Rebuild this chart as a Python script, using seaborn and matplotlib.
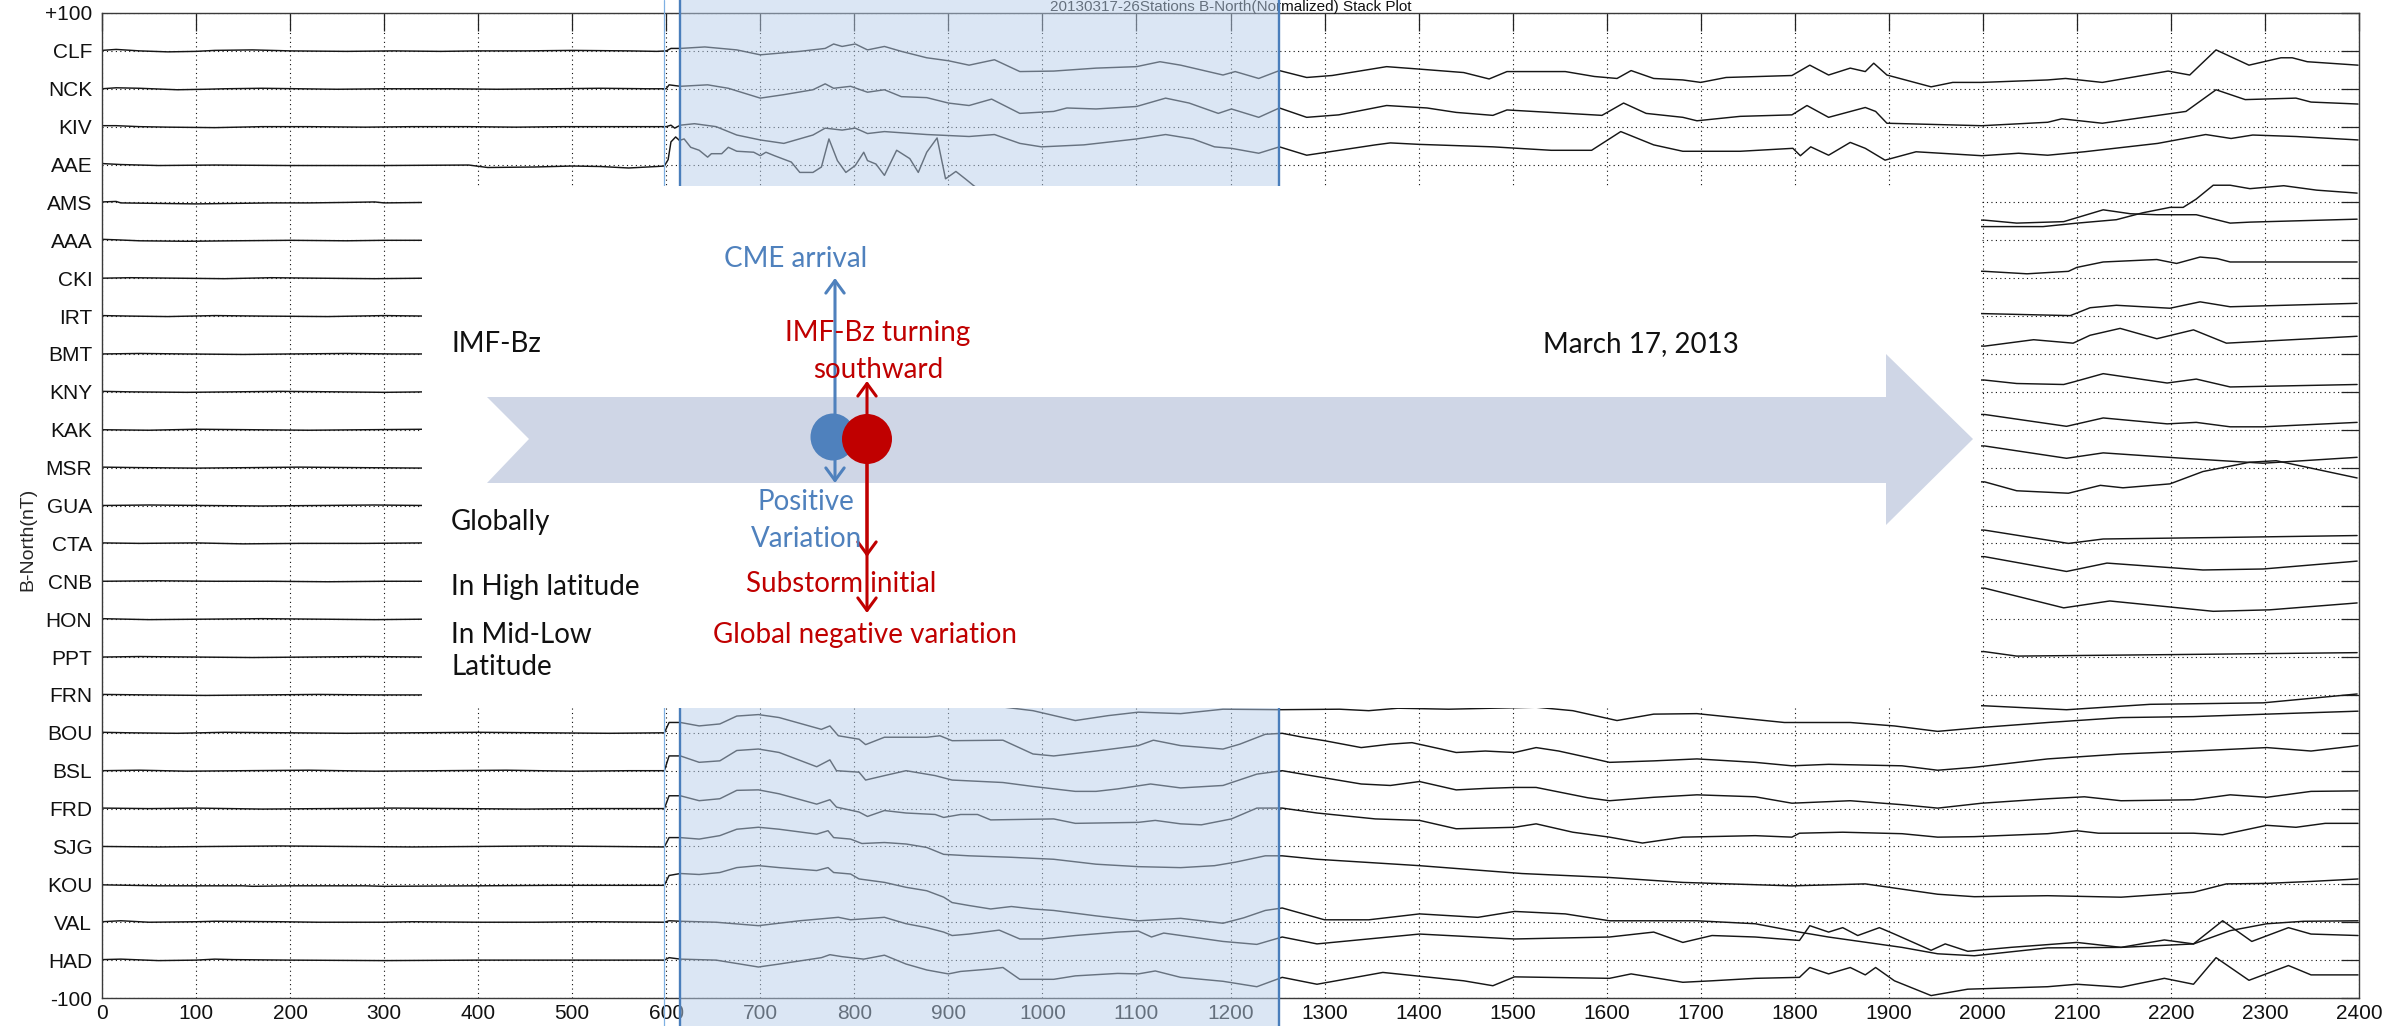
import numpy as np
import pandas as pd
import matplotlib
matplotlib.use("Agg")
import matplotlib.pyplot as plt
import seaborn as sns
from matplotlib import transforms, font_manager
from matplotlib.lines import Line2D
from matplotlib.patches import Rectangle, Polygon, Ellipse, FancyArrowPatch

# ---------------- data ----------------
STATIONS = ["CLF", "NCK", "KIV", "AAE", "AMS", "AAA", "CKI", "IRT", "BMT", "KNY",
            "KAK", "MSR", "GUA", "CTA", "CNB", "HON", "PPT", "FRN", "BOU", "BSL",
            "FRD", "SJG", "KOU", "VAL", "HAD"]
Y_TICK_LABELS = ["+100"] + STATIONS + ["-100"]
X_TICKS = list(range(0, 2401, 100))
TITLE = "20130317-26Stations B-North(Normalized) Stack Plot"
YLABEL = "B-North(nT)"

# (time index, normalized deviation from station baseline)
CLF = [(0, 0.1), (15, 0.3), (40, 0.0), (70, -0.2), (100, -0.1), (120, 0.1), (160, 0.2), (200, 0.0),
       (260, -0.1), (310, 0.0), (360, -0.1), (400, 0.0), (450, 0.0), (500, 0.1), (560, 0.0), (590, -0.1),
       (600, 0.0), (605, 0.5), (615, 0.5), (641, 0.8), (675, 0.2), (700, -0.8), (742, -0.1), (769, 0.5),
       (778, 1.4), (787, 0.9), (801, 1.4), (814, 0.2), (832, 0.9), (850, -0.1), (877, -1.4), (900, -2.0),
       (922, -2.9), (949, -1.8), (976, -4.2), (1012, -4.1), (1057, -3.5), (1100, -3.2), (1125, -2.2),
       (1147, -2.9), (1192, -4.9), (1205, -4.2), (1230, -5.6), (1252, -4.0), (1281, -5.4), (1308, -5.0),
       (1366, -3.2), (1401, -3.7), (1448, -4.4), (1475, -5.7), (1494, -4.2), (1556, -4.2), (1587, -5.2),
       (1611, -5.6), (1626, -4.0), (1650, -5.6), (1681, -5.9), (1700, -6.4), (1727, -5.4), (1797, -5.0),
       (1816, -2.9), (1836, -4.9), (1859, -3.5), (1875, -4.2), (1884, -2.5), (1898, -4.9), (1945, -7.3),
       (1968, -6.4), (1999, -6.4), (2069, -5.9), (2088, -5.6), (2127, -6.4), (2197, -4.1), (2220, -4.9),
       (2248, 0.2), (2283, -2.9), (2317, -1.4), (2329, -1.4), (2345, -2.2), (2399, -2.9)]
NCK = [(0, 0.0), (15, 0.2), (40, 0.1), (80, -0.2), (110, -0.1), (130, 0.0), (170, 0.1), (210, 0.0),
       (250, -0.1), (300, 0.0), (370, 0.0), (420, -0.1), (480, 0.0), (530, 0.1), (580, 0.0), (600, 0.0),
       (603, 0.8), (615, 0.5), (644, 0.8), (666, 0.1), (700, -1.9), (725, -1.2), (756, -0.2), (769, 1.0),
       (778, 0.1), (796, 0.5), (814, -0.7), (832, -0.2), (850, -1.6), (877, -1.8), (900, -2.9), (922, -3.4),
       (946, -2.1), (976, -5.0), (1012, -4.6), (1026, -3.9), (1057, -4.1), (1100, -3.6), (1131, -1.9),
       (1156, -2.9), (1187, -5.0), (1201, -4.1), (1230, -5.8), (1252, -3.9), (1281, -5.8), (1315, -5.3),
       (1366, -3.4), (1409, -3.9), (1440, -4.8), (1479, -5.4), (1494, -4.3), (1595, -5.4), (1618, -2.9),
       (1642, -5.0), (1681, -5.8), (1696, -6.5), (1742, -5.6), (1797, -5.3), (1813, -3.4), (1836, -5.8),
       (1875, -3.8), (1886, -4.6), (1898, -7.0), (1999, -7.5), (2069, -6.8), (2084, -6.1), (2127, -7.0),
       (2216, -4.6), (2248, -0.2), (2279, -2.2), (2333, -1.9), (2349, -2.7), (2399, -3.1)]
KIV = [(0, 0.2), (15, 0.2), (40, 0.0), (70, -0.1), (120, -0.2), (170, 0.0), (220, 0.0), (280, -0.1),
       (330, 0.0), (390, 0.0), (440, -0.1), (490, 0.0), (550, 0.0), (600, 0.0), (605, 0.3), (609, -0.3),
       (615, 0.3), (630, 0.6), (653, 0.0), (675, -1.7), (700, -2.7), (725, -3.4), (756, -1.7), (769, -0.3),
       (787, -0.7), (801, -0.3), (814, -1.4), (832, -1.0), (877, -1.6), (900, -1.8), (922, -2.0), (949, -1.6),
       (976, -3.4), (999, -4.1), (1044, -3.7), (1100, -2.5), (1131, -1.6), (1160, -2.5), (1183, -4.1),
       (1201, -4.4), (1230, -5.4), (1252, -4.1), (1281, -5.8), (1354, -3.7), (1370, -3.3), (1401, -3.6),
       (1479, -4.1), (1541, -4.8), (1584, -4.8), (1615, -1.0), (1650, -3.7), (1681, -5.0), (1742, -5.0),
       (1798, -4.4), (1806, -5.9), (1817, -4.1), (1836, -5.8), (1859, -3.2), (1875, -4.4), (1896, -6.8),
       (1929, -5.1), (1999, -5.9), (2038, -5.4), (2069, -5.8), (2108, -5.1), (2186, -3.4), (2237, -1.6),
       (2264, -2.4), (2287, -1.7), (2333, -2.0), (2399, -2.7)]
AAE = [(0, 0.2), (20, 0.0), (60, -0.2), (120, -0.1), (200, -0.2), (300, -0.2), (390, -0.1), (410, -0.6),
       (460, -0.5), (500, -0.3), (530, -0.4), (560, -0.7), (590, -0.4), (598, -0.3), (602, 1.0), (605, 4.6),
       (610, 5.6), (614, 4.9), (619, 5.2), (626, 3.5), (635, 2.9), (644, 1.5), (648, 2.2), (659, 2.2),
       (666, 3.5), (675, 2.7), (693, 2.5), (700, 1.8), (706, 2.5), (715, 1.8), (733, 0.5), (742, -1.6),
       (756, -1.6), (765, -0.5), (773, 5.2), (782, 0.8), (791, -1.6), (801, -0.2), (810, 2.5), (814, 0.8),
       (823, 0.1), (832, -2.2), (845, 2.9), (859, 1.2), (868, -1.6), (877, 2.5), (888, 5.4), (897, -2.9),
       (908, -1.4), (918, -2.9), (927, -4.3), (945, -6.5), (990, -8.0), (1100, -9.0), (1300, -11.0),
       (1600, -13.0), (1900, -12.5), (2002, -12.6), (2064, -12.6), (2100, -11.9), (2142, -11.2),
       (2170, -9.8), (2199, -8.7), (2213, -8.7), (2227, -7.0), (2245, -4.2), (2263, -4.2), (2284, -4.9),
       (2320, -4.3), (2355, -5.2), (2398, -5.8)]
AMS = [(0, 0.1), (15, 0.2), (20, -0.1), (60, -0.2), (100, -0.3), (140, -0.2), (180, -0.1), (220, -0.1),
       (260, 0.0), (290, 0.1), (300, -0.1), (345, 0.0), (2002, -3.6), (2036, -4.2), (2086, -3.9),
       (2128, -1.5), (2157, -2.3), (2185, -2.5), (2227, -2.5), (2263, -4.2), (2284, -4.0), (2398, -3.4)]
AAA = [(0, 0.2), (15, 0.1), (40, -0.1), (90, -0.2), (140, -0.1), (200, 0.0), (260, -0.1), (300, 0.0),
       (345, 0.0), (2002, -6.3), (2047, -6.8), (2091, -6.3), (2100, -5.5), (2128, -4.4), (2185, -3.9),
       (2206, -4.7), (2231, -3.4), (2249, -3.7), (2263, -4.4), (2398, -4.4)]
CKI = [(0, 0.0), (30, 0.1), (80, 0.0), (130, -0.1), (180, 0.1), (230, 0.0), (290, -0.1), (345, 0.0),
       (2002, -7.2), (2093, -7.6), (2114, -6.0), (2142, -5.5), (2199, -6.1), (2231, -4.8), (2263, -5.8),
       (2398, -5.1)]
IRT = [(0, 0.1), (30, 0.0), (70, -0.1), (120, 0.1), (170, 0.0), (240, -0.1), (300, 0.1), (345, 0.0),
       (2002, -6.1), (2054, -4.8), (2096, -5.5), (2114, -3.9), (2146, -2.5), (2185, -4.6), (2224, -2.8),
       (2259, -5.5), (2398, -4.1)]
BMT = [(0, 0.0), (40, 0.1), (90, 0.0), (150, -0.1), (200, 0.0), (260, 0.1), (310, 0.0), (345, 0.0),
       (2002, -5.3), (2036, -6.0), (2086, -6.2), (2096, -5.7), (2128, -4.0), (2196, -5.9), (2227, -5.1),
       (2263, -6.7), (2398, -6.2)]
KNY = [(0, 0.1), (30, 0.0), (90, -0.1), (140, 0.0), (190, 0.1), (250, 0.0), (300, -0.1), (345, 0.0),
       (2002, -4.6), (2089, -7.0), (2128, -5.3), (2196, -6.5), (2227, -6.2), (2263, -7.1), (2298, -7.1),
       (2398, -6.2)]
KAK = [(0, 0.0), (50, -0.1), (100, 0.1), (160, 0.0), (220, -0.1), (280, 0.0), (345, 0.1),
       (2002, -3.3), (2089, -5.8), (2128, -4.7), (2213, -5.8), (2298, -6.8), (2398, -5.6)]
MSR = [(0, 0.1), (40, 0.0), (100, -0.1), (160, 0.0), (210, 0.1), (270, 0.0), (345, -0.1),
       (2002, -2.9), (2036, -4.7), (2091, -5.2), (2125, -3.6), (2149, -4.1), (2199, -3.3), (2234, -0.8),
       (2284, 1.1), (2312, 1.4), (2398, -2.1)]
GUA = [(0, 0.0), (50, 0.1), (110, 0.0), (170, -0.1), (230, 0.0), (290, 0.1), (345, 0.0),
       (2002, -5.0), (2091, -7.7), (2128, -6.8), (2250, -6.5), (2398, -6.1)]
CTA = [(0, 0.1), (40, 0.0), (100, 0.1), (150, -0.1), (210, 0.0), (280, 0.0), (345, 0.1),
       (2002, -2.7), (2089, -5.7), (2132, -4.0), (2234, -5.4), (2298, -5.2), (2398, -3.6)]
CNB = [(0, 0.0), (60, 0.1), (120, 0.0), (180, 0.0), (240, -0.1), (300, 0.0), (345, 0.0),
       (2002, -1.4), (2086, -5.4), (2135, -4.0), (2245, -6.1), (2305, -5.8), (2398, -4.4)]
HON = [(0, 0.1), (50, -0.1), (110, 0.0), (170, 0.1), (230, 0.0), (290, -0.1), (345, 0.0),
       (2002, -6.6), (2036, -7.5), (2200, -7.2), (2398, -6.8)]
PPT = [(0, 0.0), (40, 0.1), (100, 0.0), (160, -0.1), (220, 0.0), (280, 0.1), (345, 0.0),
       (2002, -9.9), (2089, -10.7), (2178, -9.6), (2298, -9.3), (2398, -7.5)]
FRN = [(0, 0.1), (50, 0.0), (110, -0.1), (170, 0.0), (230, 0.1), (290, 0.0), (345, 0.0), (600, 0.0),
       (610, 2.0), (700, 2.5), (800, 0.5), (900, -1.5), (960, -2.5), (990, -3.2), (1035, -5.2),
       (1070, -4.2), (1102, -3.5), (1147, -3.8), (1192, -2.9), (1252, -3.0), (1316, -2.9), (1347, -3.2),
       (1378, -2.7), (1432, -2.9), (1525, -2.5), (1564, -3.2), (1611, -5.2), (1650, -3.9), (1696, -3.8),
       (1789, -5.6), (1859, -5.6), (1906, -6.3), (1952, -7.4), (1999, -6.6), (2069, -5.6), (2147, -4.6),
       (2224, -4.4), (2302, -3.9), (2399, -3.3)]
BOU = [(0, 0.1), (30, 0.0), (80, -0.1), (130, 0.1), (200, 0.0), (260, -0.1), (330, 0.0), (400, 0.1),
       (470, 0.0), (540, -0.1), (598, 0.0), (603, 2.1), (615, 2.1), (635, 1.4), (657, 1.8), (675, 3.4),
       (698, 3.7), (720, 3.1), (765, 0.7), (774, 1.4), (783, -0.6), (805, -1.3), (812, -2.4), (832, -0.9),
       (877, -0.9), (891, -0.6), (904, -1.6), (958, -1.5), (990, -4.3), (1012, -4.7), (1057, -3.7),
       (1102, -2.6), (1118, -1.5), (1147, -2.6), (1192, -3.3), (1210, -2.3), (1237, -0.3), (1255, -0.1),
       (1277, -0.9), (1300, -1.6), (1339, -3.0), (1370, -2.3), (1393, -2.0), (1424, -3.3), (1440, -4.0),
       (1471, -3.7), (1502, -4.0), (1525, -3.0), (1549, -3.7), (1580, -5.0), (1603, -6.0), (1650, -5.7),
       (1696, -5.3), (1758, -6.0), (1797, -6.7), (1836, -6.4), (1914, -6.7), (1952, -7.6), (1991, -7.0),
       (2069, -5.3), (2147, -4.3), (2224, -3.7), (2302, -3.0), (2349, -3.7), (2399, -2.6)]
BSL = [(0, 0.0), (40, 0.1), (90, -0.1), (150, 0.0), (220, 0.1), (290, -0.1), (360, 0.0), (430, 0.1),
       (500, -0.1), (560, 0.0), (598, 0.0), (603, 3.0), (615, 3.0), (635, 1.7), (657, 2.0), (675, 4.1),
       (698, 4.4), (720, 3.7), (760, 0.8), (774, 2.2), (781, 0.0), (805, -0.3), (812, -1.9), (832, -1.0),
       (855, 0.0), (886, -1.0), (904, -1.9), (958, -2.4), (990, -3.2), (1035, -4.2), (1057, -4.2),
       (1080, -3.7), (1115, -2.7), (1147, -3.5), (1192, -3.0), (1228, -0.7), (1255, 0.0), (1292, -1.2),
       (1339, -2.7), (1370, -3.0), (1401, -2.2), (1440, -3.9), (1471, -3.6), (1502, -3.4), (1525, -3.4),
       (1580, -5.5), (1603, -6.1), (1650, -5.4), (1696, -4.9), (1758, -5.3), (1797, -6.6), (1859, -6.1),
       (1914, -6.9), (1952, -7.6), (1999, -6.6), (2069, -5.7), (2108, -5.3), (2147, -6.1), (2224, -5.9),
       (2263, -4.9), (2302, -5.4), (2349, -4.2), (2399, -4.1)]
FRD = [(0, 0.1), (50, 0.0), (100, 0.1), (170, -0.1), (240, 0.0), (310, 0.1), (380, 0.0), (450, -0.1),
       (520, 0.0), (598, 0.0), (603, 2.6), (615, 2.6), (635, 1.6), (657, 2.0), (675, 3.7), (698, 3.8),
       (720, 3.0), (760, 0.9), (774, 1.8), (781, 0.3), (805, -0.7), (814, -1.6), (832, -0.4), (855, -0.9),
       (886, -1.2), (895, -1.8), (913, -1.2), (931, -1.2), (945, -2.3), (1012, -2.1), (1035, -3.0),
       (1102, -2.8), (1120, -2.4), (1147, -3.1), (1169, -3.3), (1201, -2.1), (1228, 0.1), (1255, 0.1),
       (1292, -0.9), (1354, -2.1), (1401, -2.4), (1440, -4.1), (1502, -3.8), (1525, -3.1), (1564, -4.8),
       (1603, -5.8), (1638, -7.0), (1681, -5.8), (1758, -5.5), (1797, -5.8), (1805, -5.0), (1851, -4.8),
       (1914, -5.1), (1952, -5.8), (1991, -5.7), (2069, -5.1), (2100, -4.5), (2123, -5.0), (2224, -5.0),
       (2255, -5.3), (2302, -3.4), (2333, -3.8), (2364, -3.0), (2399, -3.0)]
SJG = [(0, 0.0), (60, -0.1), (120, 0.0), (190, 0.1), (260, 0.0), (330, -0.1), (400, 0.0), (470, 0.1),
       (540, 0.0), (598, -0.1), (603, 1.8), (615, 1.8), (635, 1.5), (657, 2.2), (675, 3.5), (698, 3.9),
       (720, 3.5), (760, 2.5), (772, 3.2), (778, 1.8), (796, 1.5), (808, 0.6), (832, 0.8), (855, 0.5),
       (877, -0.2), (895, -1.6), (922, -1.9), (967, -2.2), (1012, -2.6), (1057, -3.6), (1102, -4.1),
       (1147, -4.3), (1183, -3.9), (1205, -3.2), (1237, -1.9), (1255, -1.9), (1292, -2.6), (1401, -3.9),
       (1510, -5.5), (1603, -6.3), (1681, -7.3), (1797, -8.0), (1875, -7.6), (1952, -9.7), (1991, -10.2),
       (2069, -10.0), (2147, -10.3), (2224, -9.3), (2259, -7.6), (2302, -7.5), (2349, -7.1), (2399, -6.6)]
KOU = [(0, -0.1), (60, -0.3), (150, -0.3), (160, -0.4), (200, -0.3), (280, -0.3), (300, -0.4), (400, -0.3),
       (480, -0.2), (560, -0.2), (598, -0.2), (603, 1.8), (615, 2.2), (635, 2.0), (657, 2.4), (675, 3.4),
       (698, 3.8), (720, 3.4), (760, 2.8), (772, 3.4), (778, 2.4), (796, 2.1), (805, 1.1), (832, 0.4),
       (855, -0.6), (877, -1.3), (895, -2.6), (904, -3.7), (922, -4.3), (945, -5.0), (967, -4.5),
       (990, -5.0), (1012, -5.3), (1057, -6.4), (1102, -7.4), (1147, -6.9), (1192, -7.9), (1214, -6.8),
       (1237, -5.3), (1255, -4.8), (1300, -7.2), (1347, -7.2), (1401, -6.0), (1463, -6.7), (1502, -5.5),
       (1556, -6.0), (1603, -7.4), (1696, -7.4), (1758, -8.0), (1805, -9.7), (1836, -10.7), (1914, -12.8),
       (1952, -14.1), (1991, -14.5), (2069, -12.9), (2147, -12.8), (2224, -12.1), (2263, -9.4),
       (2302, -8.0), (2341, -7.5), (2399, -7.4)]
VAL = [(0, 0.1), (20, 0.3), (50, 0.0), (100, 0.1), (120, 0.2), (190, 0.1), (230, 0.0), (300, 0.0),
       (330, 0.1), (400, 0.0), (460, 0.0), (520, 0.1), (598, 0.0), (603, 0.3), (615, 0.2), (653, 0.0),
       (698, -0.7), (742, 0.3), (783, 1.0), (796, 0.5), (832, 1.0), (855, -0.3), (877, -1.1), (895, -2.0),
       (904, -2.7), (922, -2.4), (954, -1.6), (976, -3.4), (999, -3.4), (1035, -2.7), (1080, -2.0),
       (1102, -1.8), (1116, -3.0), (1129, -2.2), (1192, -3.9), (1228, -4.5), (1255, -3.0), (1292, -4.4),
       (1401, -2.4), (1502, -3.4), (1603, -3.0), (1650, -2.0), (1681, -4.1), (1712, -2.7), (1758, -3.0),
       (1805, -3.7), (1816, -0.7), (1836, -2.0), (1851, -1.1), (1867, -2.7), (1890, -1.1), (1906, -2.4),
       (1945, -5.7), (1960, -4.4), (1984, -5.9), (2030, -5.1), (2100, -4.1), (2147, -5.1), (2193, -3.6),
       (2224, -4.4), (2255, 0.3), (2286, -3.9), (2325, -1.1), (2349, -2.4), (2399, -2.7)]
HAD = [(0, 0.1), (20, 0.2), (60, -0.1), (100, 0.0), (120, 0.2), (140, 0.1), (200, 0.0), (300, -0.1),
       (400, 0.0), (500, 0.0), (598, 0.0), (603, 0.5), (615, 0.2), (653, 0.0), (698, -1.4), (720, -0.8),
       (765, 0.5), (774, 1.1), (787, 0.7), (810, 0.2), (832, 1.0), (855, -0.8), (877, -2.0), (900, -2.8),
       (913, -2.3), (945, -1.8), (958, -1.5), (976, -3.9), (1012, -3.9), (1035, -3.2), (1080, -2.7),
       (1102, -2.8), (1120, -2.2), (1147, -3.5), (1192, -4.3), (1228, -5.4), (1255, -3.5), (1292, -4.9),
       (1362, -2.5), (1448, -4.2), (1479, -5.2), (1502, -3.4), (1603, -3.7), (1626, -2.8), (1681, -4.5),
       (1712, -4.2), (1758, -3.7), (1805, -3.5), (1816, -1.5), (1836, -2.8), (1859, -1.5), (1875, -3.0),
       (1886, -1.5), (1906, -4.2), (1945, -7.2), (1984, -5.9), (2069, -5.4), (2100, -4.9), (2147, -5.5),
       (2193, -3.7), (2224, -4.9), (2248, 0.5), (2283, -4.1), (2325, -1.1), (2349, -3.0), (2399, -3.0)]

TRACES = [CLF, NCK, KIV, AAE, AMS, AAA, CKI, IRT, BMT, KNY, KAK, MSR, GUA, CTA, CNB, HON, PPT,
          FRN, BOU, BSL, FRD, SJG, KOU, VAL, HAD]

# event markers (time index)
SC_LINE = 598
SHADE_START = 615
SHADE_END = 1252

# annotation texts
LEFT_TEXTS = ["IMF-Bz", "Globally", "In High latitude", "In Mid-Low", "Latitude"]
BLUE_TEXTS = ["CME arrival", "Positive", "Variation"]
RED_TEXTS = ["IMF-Bz turning", "southward", "Substorm initial", "Global negative variation"]
DATE_TEXT = "March 17, 2013"

# ---------------- style ----------------
sns.set_theme(style="white")
names = {f.name for f in font_manager.fontManager.ttflist}
TICK_FONT = "Liberation Sans Narrow" if "Liberation Sans Narrow" in names else "Liberation Sans"
plt.rcParams["font.family"] = [TICK_FONT, "DejaVu Sans"]
ANN_FONT = ["Lato", "DejaVu Sans"]

W, H, DPI = 2389, 1026, 100
fig = plt.figure(figsize=(W / DPI, H / DPI), dpi=DPI, facecolor="white")
AX_L, AX_R, AX_T, AX_B = 102, 2359, 13, 998
ax = fig.add_axes([AX_L / W, 1 - AX_B / H, (AX_R - AX_L) / W, (AX_B - AX_T) / H])
ax.set_facecolor("white")

levels = np.linspace(100, -100, len(STATIONS) + 2)
rows = []
for k, (name, tr) in enumerate(zip(STATIONS, TRACES)):
    for x, v in tr:
        rows.append({"station": name, "x": x, "y": levels[k + 1] + v})
df = pd.DataFrame(rows)

sns.lineplot(data=df, x="x", y="y", units="station", estimator=None, color="#161616",
             lw=1.05, ax=ax, legend=False)

ax.set_xlim(0, 2400)
ax.set_ylim(-100, 100)
ax.set_xticks(X_TICKS)
ax.set_xticklabels([str(t) for t in X_TICKS])
ax.set_yticks(levels)
ax.set_yticklabels(Y_TICK_LABELS)
ax.set_xlabel("")
ax.set_ylabel(YLABEL, fontsize=14, family=["Liberation Sans", "DejaVu Sans"])
ax.yaxis.set_label_coords((36 - AX_L) / (AX_R - AX_L), 1 - (539 - AX_T) / (AX_B - AX_T))
ax.grid(True, color="#111111", ls=(0, (1, 3)), lw=0.8)
ax.set_axisbelow(True)
ax.tick_params(axis="both", direction="in", length=13, width=0.9, color="#222222",
               top=True, right=True, labelsize=15, labelcolor="#111111")
ax.tick_params(axis="y", pad=7)
ax.tick_params(axis="x", pad=4)
for s in ax.spines.values():
    s.set_color("#3a3a3a")
    s.set_linewidth(1.0)

# title squeezed into the thin strip above the frame
fig.text((AX_L + AX_R) / 2 / W, 1 - 11.5 / H, TITLE, ha="center", va="baseline", fontsize=11,
         family=["Liberation Sans", "DejaVu Sans"], color="#111111", zorder=1)

# ---------------- overlays ----------------
blend = transforms.blended_transform_factory(ax.transData, fig.transFigure)
fig.add_artist(Rectangle((SHADE_START, 0), SHADE_END - SHADE_START, 1, transform=blend,
                         facecolor="#b9cfea", alpha=0.5, edgecolor="none", zorder=2))
fig.add_artist(Line2D([SC_LINE, SC_LINE], [0, 1], transform=blend, color="#7fb0e3", lw=0.9, zorder=2.2))
for xv in (SHADE_START, SHADE_END):
    fig.add_artist(Line2D([xv, xv], [0, 1], transform=blend, color="#4a7ebb", lw=1.7, zorder=2.3))

# white panel
BOX_X0, BOX_X1 = 340, 1998
BOX_TOP, BOX_BOT = 186, 708
fig.add_artist(Rectangle((BOX_X0, 1 - BOX_BOT / H), BOX_X1 - BOX_X0, (BOX_BOT - BOX_TOP) / H,
                         transform=blend, facecolor="white", edgecolor="none", zorder=3))


def P(x, y):
    return (x / W, 1 - y / H)


arrow_px = [(487, 397), (1886, 397), (1886, 354), (1973, 439), (1886, 525), (1886, 483),
            (487, 483), (529, 439)]
fig.add_artist(Polygon([P(*p) for p in arrow_px], closed=True, transform=fig.transFigure,
                       facecolor="#cfd6e6", edgecolor="none", zorder=4))

BLUE = "#4f81bd"
RED = "#c00000"


def arr(p0, p1, color, z):
    a = FancyArrowPatch(P(*p0), P(*p1), transform=fig.transFigure,
                        arrowstyle="->,head_length=0.45,head_width=0.33", mutation_scale=20,
                        color=color, lw=2.2, shrinkA=0, shrinkB=0, zorder=z)
    fig.add_artist(a)


arr((835, 437), (835, 278), BLUE, 5)
arr((835, 437), (835, 483), BLUE, 5)
fig.add_artist(Ellipse(P(833, 437), 45 / W, 47 / H, transform=fig.transFigure,
                       facecolor=BLUE, edgecolor="none", zorder=6))
arr((867, 439), (867, 381), RED, 6.5)
arr((867, 439), (867, 557), RED, 6.5)
arr((867, 439), (867, 613), RED, 6.5)
fig.add_artist(Ellipse(P(867, 439), 50 / W, 50 / H, transform=fig.transFigure,
                       facecolor=RED, edgecolor="none", zorder=7))

FS = 20
left_pos = [352, 530, 595, 643, 675]
for t, yb in zip(LEFT_TEXTS, left_pos):
    fig.text(*P(451, yb), t, ha="left", va="baseline", fontsize=FS, family=ANN_FONT,
             color="#111111", zorder=8)
blue_pos = [(796, 267), (806, 510), (807, 547)]
for t, (xc, yb) in zip(BLUE_TEXTS, blue_pos):
    fig.text(*P(xc, yb), t, ha="center", va="baseline", fontsize=FS, family=ANN_FONT,
             color=BLUE, zorder=8)
red_pos = [(878, 341), (878, 378), (841, 592), (865, 643)]
for t, (xc, yb) in zip(RED_TEXTS, red_pos):
    fig.text(*P(xc, yb), t, ha="center", va="baseline", fontsize=FS, family=ANN_FONT,
             color=RED, zorder=8)
fig.text(*P(1641, 352), DATE_TEXT, ha="center", va="baseline", fontsize=FS, family=ANN_FONT,
         color="#111111", zorder=8)

fig.savefig("out.png", dpi=DPI, facecolor="white")
